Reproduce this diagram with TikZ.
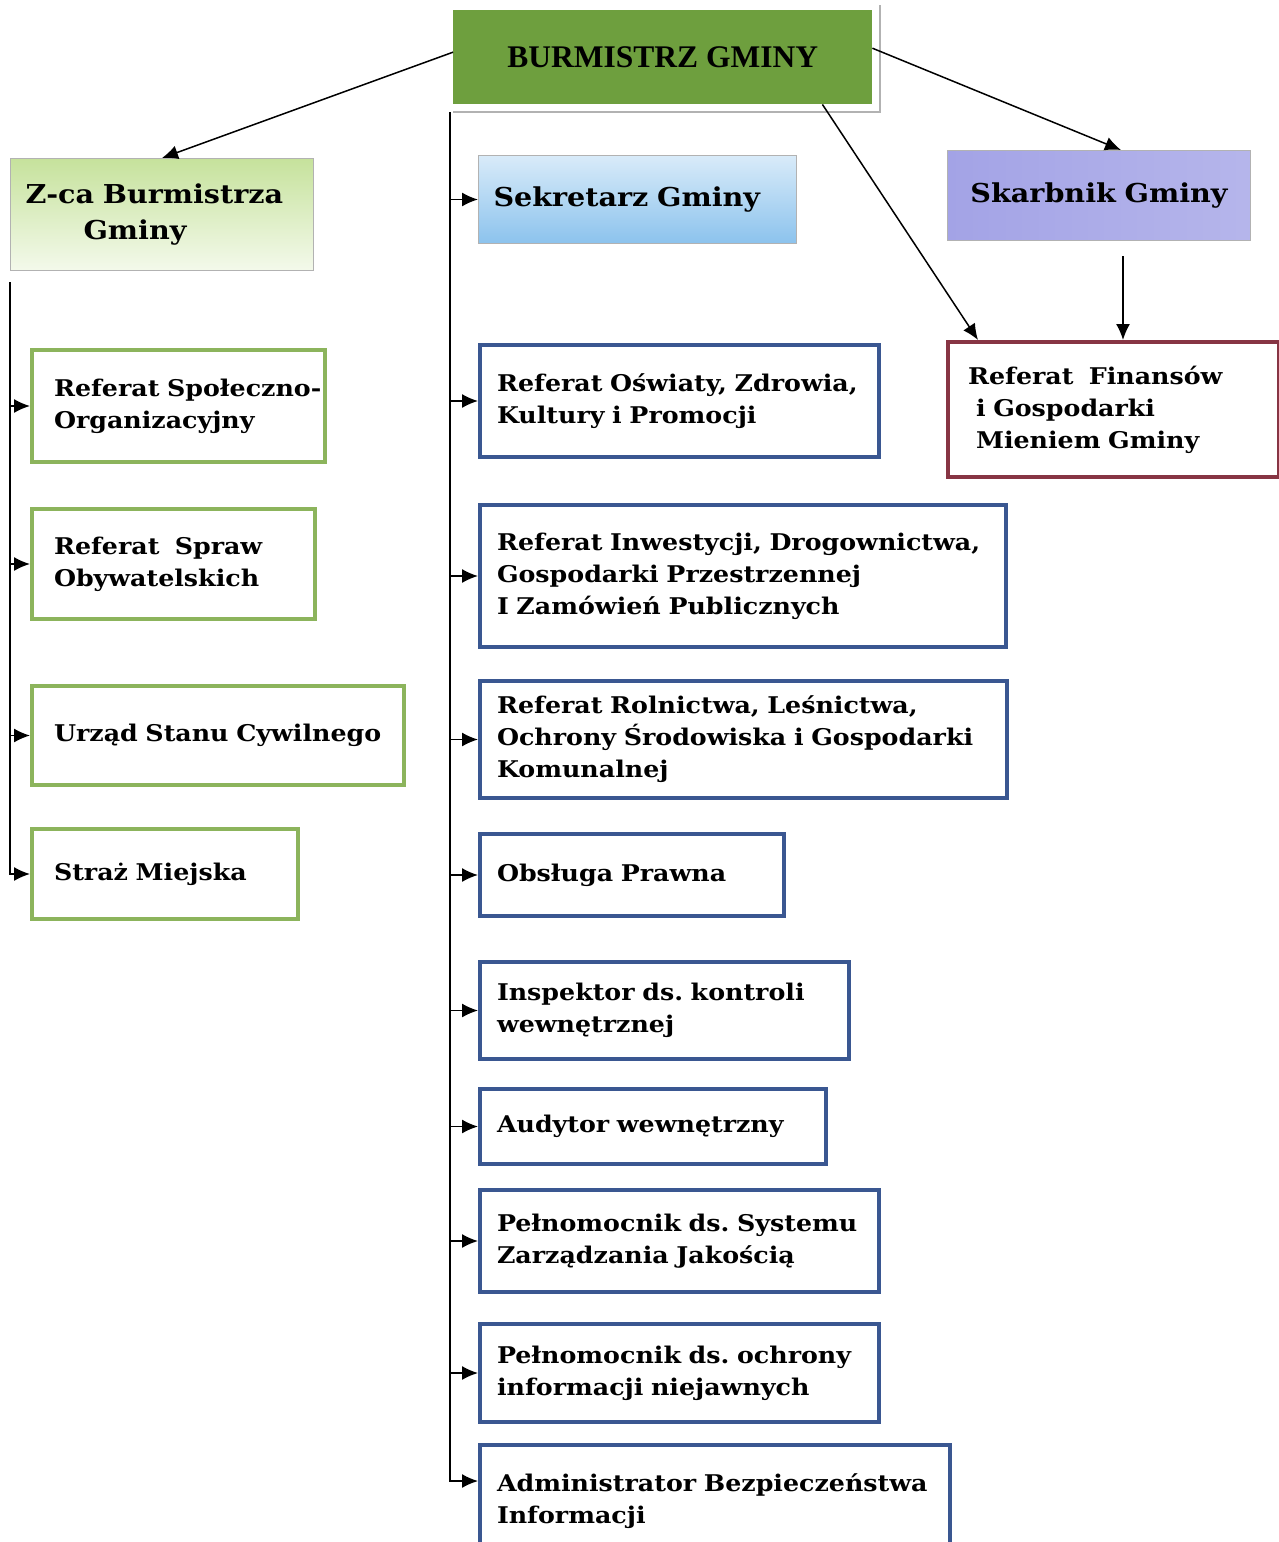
\documentclass[tikz,border=0pt]{standalone}
\usepackage{fontspec}
\setmainfont{DejaVu Serif}[FakeStretch=1.1]
\newfontfamily\titlefont{Liberation Serif}
\usepackage{xcolor}
\usetikzlibrary{arrows.meta, positioning}

\definecolor{burmgreen}{HTML}{6E9F3E}
\definecolor{zcagreen}{HTML}{C6E29C}
\definecolor{sekblue}{HTML}{7FBCEB}
\definecolor{skarbviolet}{HTML}{A3A3E6}
\definecolor{refgreen}{HTML}{8CB45C}
\definecolor{refblue}{HTML}{3A5791}
\definecolor{refred}{HTML}{873544}

\newcommand\unitfont{\fontsize{23}{32}\selectfont\bfseries\frenchspacing}
\newcommand\headfont{\fontsize{26}{36}\selectfont\bfseries}

\begin{document}
\begin{tikzpicture}[x=1pt, y=-1pt,
    mayor/.style={anchor=north west, fill=burmgreen, minimum width=419pt, minimum height=94pt,
        font=\titlefont\bfseries\fontsize{31.5}{36}\selectfont},
    headbox/.style={anchor=north west, draw=black!30, line width=1pt, inner xsep=15pt, font=\headfont},
    unitbox/.style={anchor=north west, line width=4pt, fill=white, align=left, inner xsep=17pt, font=\unitfont},
    greenbox/.style={unitbox, draw=refgreen, inner xsep=22pt},
    bluebox/.style={unitbox, draw=refblue},
    arr/.style={-{Latex[length=16pt,width=14pt]}, line width=1.5pt}]
    \useasboundingbox (0,0) rectangle (1279,1542);

    % gora
    \node[mayor] (burm) at (453,10) {BURMISTRZ GMINY};
    \draw[black!30, line width=2pt] ([yshift=-8pt]burm.south west) -| ([xshift=8pt,yshift=5pt]burm.north east);
    \node[headbox, top color=zcagreen, bottom color=zcagreen!20, text width=273pt, align=left, minimum height=112pt] (zca) at (10,158) {Z-ca Burmistrza\\\hspace*{58pt}Gminy};
    \node[headbox, top color=sekblue!30, bottom color=sekblue!90, text width=288pt, align=left, minimum height=88pt] (sek) at (478,155) {Sekretarz Gminy};
    \node[headbox, left color=skarbviolet, middle color=skarbviolet!35, right color=skarbviolet!80, text width=273pt, align=center, minimum height=90pt] (skarb) at (947,150) {Skarbnik Gminy};
    \node[unitbox, draw=refred, inner xsep=20pt, text width=291pt, minimum height=135pt] (fin) at (946,340) {Referat~~Finansów\\\hspace*{8pt}i Gospodarki\\\hspace*{8pt}Mieniem Gminy};

    % lewa kolumna
    \node[greenbox, text width=249pt, minimum height=112pt] (spol) at (30,348) {\mbox{Referat Społeczno-}\\Organizacyjny};
    \node[greenbox, text width=239pt, minimum height=110pt] (spraw) at (30,507) {Referat~~Spraw\\Obywatelskich};
    \node[greenbox, text width=328pt, minimum height=99pt] (usc) at (30,684) {Urząd Stanu Cywilnego};
    \node[greenbox, text width=222pt, minimum height=90pt] (straz) at (30,827) {Straż Miejska};

    % srodkowa kolumna
    \node[bluebox, text width=365pt, minimum height=112pt] (osw) at (478,343) {Referat Oświaty, Zdrowia,\\Kultury i Promocji};
    \node[bluebox, text width=492pt, minimum height=142pt] (inw) at (478,503) {Referat Inwestycji, Drogownictwa,\\Gospodarki Przestrzennej\\I Zamówień Publicznych};
    \node[bluebox, text width=493pt, minimum height=117pt] (rol) at (478,679) {Referat Rolnictwa, Leśnictwa,\\Ochrony Środowiska i Gospodarki\\Komunalnej};
    \node[bluebox, text width=270pt, minimum height=82pt] (prawna) at (478,832) {Obsługa Prawna};
    \node[bluebox, text width=335pt, minimum height=97pt] (insp) at (478,960) {Inspektor ds. kontroli\\wewnętrznej};
    \node[bluebox, text width=312pt, minimum height=75pt] (audyt) at (478,1087) {Audytor wewnętrzny};
    \node[bluebox, text width=365pt, minimum height=102pt] (pelsys) at (478,1188) {Pełnomocnik ds. Systemu\\Zarządzania Jakością};
    \node[bluebox, text width=365pt, minimum height=98pt] (pelinf) at (478,1322) {Pełnomocnik ds. ochrony\\informacji niejawnych};
    \node[bluebox, text width=436pt, minimum height=112pt] (admin) at (478,1443) {Administrator Bezpieczeństwa\\Informacji};

    % strzalki od burmistrza
    \draw[arr] ([yshift=5pt]burm.west) -- (zca.north);
    \draw[arr] ([yshift=9pt]burm.east) -- ([xshift=22pt]skarb.north);
    \draw[arr] ([xshift=-50pt]burm.south east) -- ([xshift=32pt]fin.north west);
    \coordinate (skfin) at ([xshift=24pt,yshift=-15pt]skarb.south);
    \draw[arr] (skfin) -- (skfin |- fin.north);

    % linie pionowe
    \coordinate (ltop) at (10,282);
    \draw[arr] (ltop) |- (straz.west);
    \foreach \n in {spol,spraw,usc}
        \draw[arr] (ltop |- \n.west) -- (\n.west);
    \coordinate (mtop) at (450,112);
    \draw[arr] (mtop) |- ([yshift=20pt]admin.west);
    \foreach \n in {sek,osw,inw,rol,prawna,insp,audyt,pelsys,pelinf}
        \draw[arr] (mtop |- \n.west) -- (\n.west);
\end{tikzpicture}
\end{document}
